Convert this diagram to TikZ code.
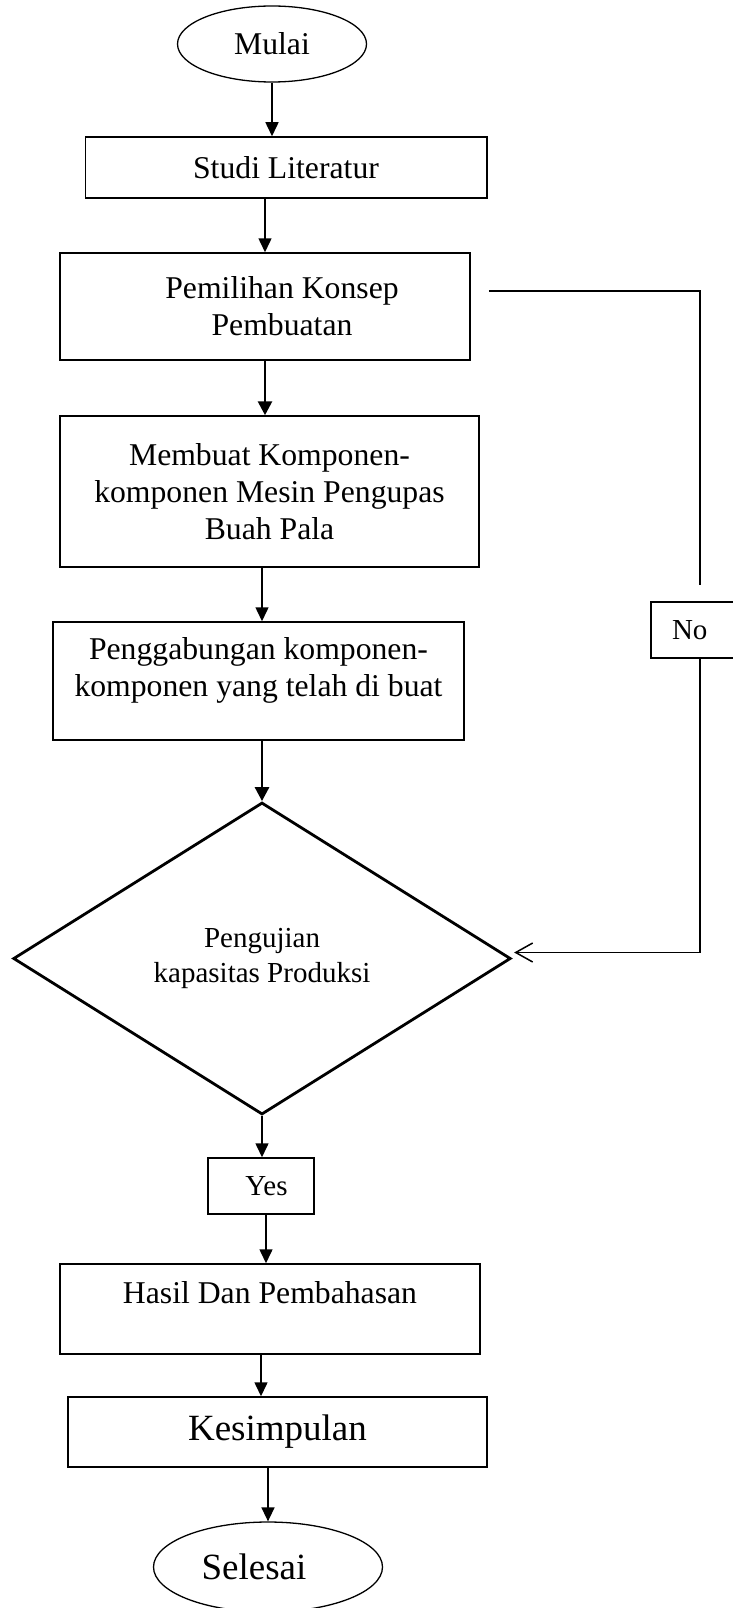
\documentclass[tikz,border=0pt]{standalone}
\usepackage{fontspec}
\setmainfont{Liberation Serif}
\usepackage{tikz}
\usetikzlibrary{shapes.geometric,arrows.meta}

\newcommand{\teks}{\fontsize{31.7pt}{37pt}\selectfont}
\newcommand{\teksbesar}{\fontsize{37pt}{43pt}\selectfont}
\newcommand{\tekskecil}{\fontsize{29pt}{35pt}\selectfont}

\begin{document}
\begin{tikzpicture}[x=1pt,y=-1pt,
  kotak/.style={draw,line width=1.5pt,rectangle,align=center,inner sep=0pt,font=\teks},
  awal/.style={draw,line width=1.3pt,ellipse,inner sep=0pt,font=\teks},
  keputusan/.style={draw,line width=2.8pt,diamond,inner sep=0pt,align=center,font=\tekskecil},
  panah/.style={line width=1.5pt,-{Triangle[length=14pt,width=13pt]}},
  panahtebal/.style={line width=2.8pt,-{Triangle[length=14pt,width=14pt]}},
  garis/.style={line width=1.5pt},
  panahbalik/.style={line width=1.5pt,shorten >=2pt,-{Straight Barb[length=17pt,width=19pt]}}]
\useasboundingbox (0,0) rectangle (733,1608);

\node[awal,minimum width=189,minimum height=76] (mulai) at (272,44) {Mulai};
\node[kotak,minimum width=401.5,minimum height=61] (studi) at (286,167.5) {Studi Literatur};
\node[kotak,minimum width=410,minimum height=107] (pemilihan) at (265,306.5)
  {\hspace*{34pt}Pemilihan Konsep\\\hspace*{34pt}Pembuatan};
\node[kotak,minimum width=419,minimum height=151] (membuat) at (269.5,491.5)
  {Membuat Komponen-\\komponen Mesin Pengupas\\Buah Pala};
\node[kotak,text depth=28pt,minimum width=411,minimum height=118] (penggabungan) at (258.5,681)
  {Penggabungan komponen-\\komponen yang telah di buat};
\node[keputusan,minimum width=497.5,minimum height=312] (pengujian) at (262,958.5)
  {Pengujian\\kapasitas Produksi};
\node[kotak,font=\tekskecil,minimum width=106,minimum height=56] (yes) at (261,1186)
  {\hspace*{11pt}Yes};
\node[kotak,text depth=33pt,minimum width=420,minimum height=90] (hasil) at (270,1309)
  {Hasil Dan Pembahasan};
\node[kotak,font=\teksbesar,minimum width=419,minimum height=70] (kesimpulan) at (277.5,1432)
  {Kesimpulan};
\node[awal,font=\teksbesar,minimum width=229,minimum height=90] (selesai) at (268,1567)
  {Selesai\hspace*{28pt}};
\node[kotak,font=\tekskecil,text width=56pt,align=left,inner xsep=21pt,minimum height=56]
  (no) at (700,630) {No};

% alur utama
\draw[panah] (mulai) -- (mulai |- studi.north);
\draw[panah] (studi.south -| pemilihan) -- (pemilihan.north);
\draw[panahtebal] (pemilihan.south) -- (pemilihan.south |- membuat.north);
\draw[panah] (membuat.south -| pengujian) -- (pengujian |- penggabungan.north);
\draw[panahtebal] (penggabungan.south -| pengujian) -- (pengujian.north);
\draw[panah] (pengujian.south) -- (pengujian.south |- yes.north);
\draw[panah] ([xshift=5pt]yes.south) -- ([xshift=5pt]yes.south |- hasil.north);
\draw[panah] (hasil.south -| yes) -- (yes |- kesimpulan.north);
\draw[panah] (kesimpulan.south -| selesai) -- (selesai.north);

% jalur No
\draw[garis] ([xshift=18pt,yshift=15.5pt]pemilihan.east) -| ([yshift=16pt]no.north);
\draw[panahbalik] (no.south) |- ([yshift=6pt]pengujian.east);
\end{tikzpicture}
\end{document}
